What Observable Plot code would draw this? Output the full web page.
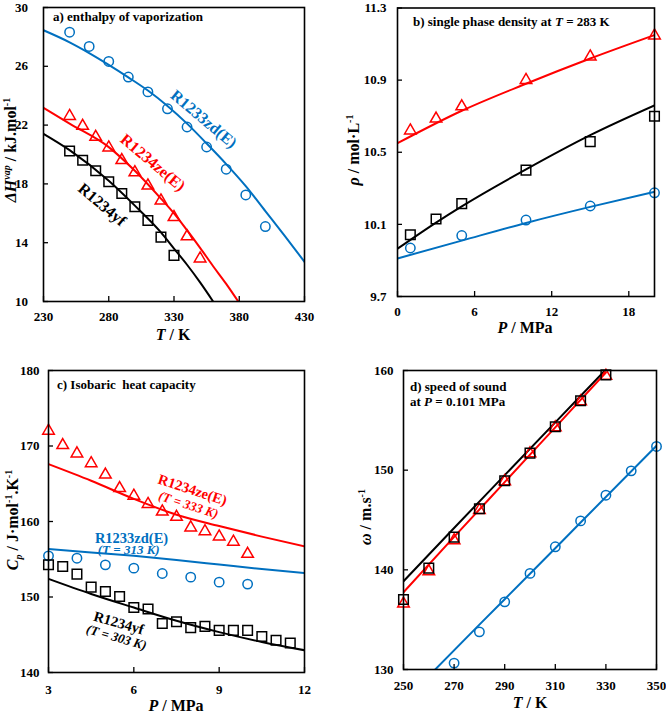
<!DOCTYPE html>
<html><head><meta charset="utf-8">
<script src="https://cdn.jsdelivr.net/npm/d3@7"></script>
<script src="https://cdn.jsdelivr.net/npm/@observablehq/plot@0.6"></script>
<style>
body{margin:0;background:#fff}
#wrap{position:relative;width:666px;height:713px;background:#fff;font-family:'Liberation Serif','Times New Roman',serif;font-weight:bold;color:#000;overflow:hidden}
.p{position:absolute}
.lab{position:absolute;white-space:nowrap;font-size:16px;line-height:16px;transform:translate(-50%,-50%)}
.rot{transform:translate(-50%,-50%) rotate(-90deg)}
.ttl{position:absolute;white-space:pre;font-size:13px;line-height:13px}
sup,sub{font-size:10px;line-height:0}
</style></head>
<body><div id="wrap"></div>
<script>
// ---------- data: a) enthalpy of vaporization ----------
const aT_zd = [250,265,280,295,310,325,340,355,370,385,400];
const aH_zd = [28.32,27.35,26.33,25.27,24.26,23.11,21.87,20.51,19.0,17.25,15.1];
const aT_ze = [250,260,270,280,290,300,310,320,330,340,350];
const aH_ze = [22.61,21.94,21.19,20.47,19.61,18.78,17.88,16.86,15.73,14.42,12.92];
const aT_yf = [250,260,270,280,290,300,310,320,330];
const aH_yf = [20.24,19.61,18.89,18.15,17.35,16.45,15.51,14.38,13.14];
const aLT_zd = [230,250,265,280,295,310,325,340,355,370,385,400,415,430];
const aLH_zd = [28.45,27.63,26.9,26.1,25.25,24.35,23.3,22.1,20.75,19.35,17.85,16.15,14.45,12.7];
const aLT_ze = [230,250,280,300,320,330,340,350,360,370,380];
const aLH_ze = [23.17,22.1,20.5,18.89,17.0,16.0,14.85,13.65,12.4,11.2,9.9];
const aLT_yf = [230,250,280,300,320,330,340,350,360];
const aLH_yf = [21.41,20.3,18.21,16.52,14.7,13.6,12.5,11.3,10.0];
const aXTicks = [230,280,330,380,430];
const aYTicks = [10,14,18,22,26,30];
const aLabelText = ["R1233zd(E)","R1234ze(E)","R1234yf"];
const aLabelT = [352.8,313.8,274.9];
const aLabelH = [22.41,19.45,16.59];

// ---------- data: b) single phase density at T = 283 K ----------
const bP_ze = [1,3,5,10,15,20];
const bR_ze = [10.62,10.686,10.754,10.9,11.03,11.147];
const bP_yf = [1,3,5,10,15,20];
const bR_yf = [10.042,10.13,10.215,10.401,10.559,10.70];
const bP_zd = [1,5,10,15,20];
const bR_zd = [9.969,10.038,10.124,10.202,10.275];
const bLP_ze = [0,5,10,15,20];
const bLR_ze = [10.55,10.73,10.88,11.02,11.15];
const bLP_yf = [0,3,5,10,15,20];
const bLR_yf = [9.965,10.11,10.2,10.405,10.595,10.76];
const bLP_zd = [0,5,10,15,20];
const bLR_zd = [9.911,10.01,10.108,10.197,10.28];
const bXTicks = [0,6,12,18];
const bYTicks = [9.7,10.1,10.5,10.9,11.3];

// ---------- data: c) isobaric heat capacity ----------
const cP_ze = [3,3.5,4,4.5,5,5.5,6,6.5,7,7.5,8,8.5,9,9.5,10];
const cC_ze = [172.0,170.1,169.0,167.7,166.2,164.4,163.4,162.3,161.3,160.6,159.2,158.7,158.0,157.3,155.7];
const cP_zd = [3,4,5,6,7,8,9,10];
const cC_zd = [155.45,155.14,154.26,153.82,153.11,152.63,151.97,151.71];
const cP_yf = [3,3.5,4,4.5,5,5.5,6,6.5,7,7.5,8,8.5,9,9.5,10,10.5,11,11.5];
const cC_yf = [154.26,154.03,153.03,151.31,150.73,150.07,148.62,148.41,146.5,146.73,145.94,146.11,145.58,145.58,145.58,144.78,144.26,143.91];
const cLP = [3,4.5,6,7.5,9,10.5,12];
const cLC_ze = [167.6,165.4,163.0,160.9,159.4,158.0,156.7];
const cLC_zd = [156.37,155.9,155.45,154.9,154.3,153.7,153.16];
const cLC_yf = [152.4,150.4,148.6,146.85,145.35,144.05,142.95];
const cXTicks = [3,6,9,12];
const cYTicks = [140,150,160,170,180];
const cNameText = ["R1234ze(E)","R1233zd(E)","R1234yf"];
const cNameP = [8.06,5.92,5.47];
const cNameC = [164.17,157.79,146.55];
const cTempText = ["(T = 333 K)","(T = 313 K)","(T = 303 K)"];
const cTempP = [7.92,5.82,5.39];
const cTempC = [162.19,156.2,144.65];

// ---------- data: d) speed of sound at P = 0.101 MPa ----------
const dT = [250,260,270,280,290,300,310,320,330];
const dW_yf = [137.03,140.17,143.28,146.12,148.93,151.71,154.35,156.96,159.56];
const dW_ze = [136.6,139.84,142.95,145.99,148.87,151.67,154.28,156.89,159.46];
const dT_zd = [270,280,290,300,310,320,330,340,350];
const dW_zd = [130.64,133.78,136.79,139.64,142.31,144.91,147.49,149.93,152.38];
const dLT = [250,270,290,310,330];
const dLW_yf = [138.85,144.2,149.5,154.8,160.1];
const dLW_ze = [137.75,143.3,148.8,154.3,159.8];
const dLT_zd = [260,280,300,320,350];
const dLW_zd = [129.35,134.5,139.6,144.75,152.45];
const dXTicks = [250,270,290,310,330,350];
const dYTicks = [130,140,150,160];

// ---------- helpers ----------
const BLUE = "#0070C0", RED = "#FF0000", BLACK = "#000000";
const FONT = "'Liberation Serif','Times New Roman',serif";
const pts = (xs, ys) => xs.map((x, i) => ({x, y: ys[i]}));
const wrap = document.getElementById("wrap");

function panel(o) {
  const svg = Plot.plot({
    width: o.width, height: o.height,
    marginLeft: o.ml, marginRight: o.mr, marginTop: o.mt, marginBottom: o.mb,
    x: {domain: o.xDomain}, y: {domain: o.yDomain},
    style: {fontFamily: FONT, fontSize: "13px", fontWeight: "bold", color: "#000", background: "transparent", overflow: "visible"},
    marks: [
      ...o.marks,
      Plot.frame({stroke: BLACK, strokeWidth: 1.6}),
      Plot.axisX({ticks: o.xTicks, tickSize: -5, tickPadding: o.xPad, label: null, tickFormat: o.xFmt || (d => String(d)), strokeWidth: 1.3}),
      Plot.axisY({ticks: o.yTicks, tickSize: -5, tickPadding: o.yPad, label: null, tickFormat: o.yFmt || (d => String(d)), strokeWidth: 1.3})
    ]
  });
  svg.classList.add("p");
  svg.style.left = o.left + "px";
  svg.style.top = o.top + "px";
  wrap.appendChild(svg);
}
const ln = (xs, ys, c) => Plot.line(pts(xs, ys), {x: "x", y: "y", stroke: c, strokeWidth: 2, curve: "monotone-x", clip: true});
const dt = (xs, ys, c, sym, r) => Plot.dot(pts(xs, ys), {x: "x", y: "y", stroke: c, fill: "none", symbol: sym, r: r, strokeWidth: 1.5});
const RC = 4.7, RT = 4.3, RS = 5.4;

// a)
panel({left: 0, top: 0, width: 333, height: 356, ml: 43, mr: 29, mt: 7, mb: 55,
  xDomain: [230, 430], yDomain: [10, 30], xTicks: aXTicks, yTicks: aYTicks, xPad: 15, yPad: 20.5,
  marks: [
    ln(aLT_zd, aLH_zd, BLUE), ln(aLT_ze, aLH_ze, RED), ln(aLT_yf, aLH_yf, BLACK),
    dt(aT_zd, aH_zd, BLUE, "circle", RC), dt(aT_ze, aH_ze, RED, "triangle", RT), dt(aT_yf, aH_yf, BLACK, "square", RS),
    Plot.text(aLabelText.map((t, i) => ({t, x: aLabelT[i], y: aLabelH[i], c: [BLUE, RED, BLACK][i]})),
      {x: "x", y: "y", text: "t", fill: "c", rotate: 40, fontSize: 16, fontWeight: "bold"})
  ]});

// b)
panel({left: 333, top: 0, width: 333, height: 356, ml: 64, mr: 12, mt: 7.5, mb: 60,
  xDomain: [0, 20], yDomain: [9.7, 11.3], xTicks: bXTicks, yTicks: bYTicks, xPad: 15, yPad: 16, yFmt: d => d.toFixed(1),
  marks: [
    ln(bLP_ze, bLR_ze, RED), ln(bLP_yf, bLR_yf, BLACK), ln(bLP_zd, bLR_zd, BLUE),
    dt(bP_ze, bR_ze, RED, "triangle", RT), dt(bP_yf, bR_yf, BLACK, "square", RS), dt(bP_zd, bR_zd, BLUE, "circle", RC)
  ]});

// c)
panel({left: 0, top: 356, width: 333, height: 357, ml: 48, mr: 29, mt: 14, mb: 41,
  xDomain: [3, 12], yDomain: [140, 180], xTicks: cXTicks, yTicks: cYTicks, xPad: 17, yPad: 14,
  marks: [
    ln(cLP, cLC_ze, RED), ln(cLP, cLC_zd, BLUE), ln(cLP, cLC_yf, BLACK),
    dt(cP_ze, cC_ze, RED, "triangle", RT), dt(cP_zd, cC_zd, BLUE, "circle", RC), dt(cP_yf, cC_yf, BLACK, "square", RS),
    Plot.text(cNameText.map((t, i) => ({t, x: cNameP[i], y: cNameC[i], c: [RED, BLUE, BLACK][i], r: [18, 0, 16][i]})),
      {x: "x", y: "y", text: "t", fill: "c", rotate: "r", fontSize: 14.5, fontWeight: "bold"}),
    Plot.text(cTempText.map((t, i) => ({t, x: cTempP[i], y: cTempC[i], c: [RED, BLUE, BLACK][i], r: [18, 0, 16][i]})),
      {x: "x", y: "y", text: "t", fill: "c", rotate: "r", fontSize: 13, fontWeight: "bold", fontStyle: "italic"})
  ]});

// d)
panel({left: 333, top: 356, width: 333, height: 357, ml: 70, mr: 10, mt: 14, mb: 44,
  xDomain: [250, 350], yDomain: [130, 160], xTicks: dXTicks, yTicks: dYTicks, xPad: 16, yPad: 15,
  marks: [
    ln(dLT, dLW_yf, BLACK), ln(dLT, dLW_ze, RED), ln(dLT_zd, dLW_zd, BLUE),
    dt(dT, dW_ze, RED, "triangle", RT), dt(dT, dW_yf, BLACK, "square", RS), dt(dT_zd, dW_zd, BLUE, "circle", RC)
  ]});

// ---------- titles and axis labels (HTML text) ----------
const html = [
  [53, 10, 'a) enthalpy of vaporization'],
  [413, 15, 'b) single phase density at <i>T</i> = 283 K'],
  [57, 378, 'c) Isobaric  heat capacity'],
  [410, 380, 'd) speed of sound'],
  [410, 395, 'at <i>P</i> = 0.101 MPa'],
];
for (const [x, y, h] of html) {
  const d = document.createElement("div");
  d.className = "ttl"; d.style.left = x + "px"; d.style.top = y + "px"; d.innerHTML = h;
  wrap.appendChild(d);
}
const labs = [
  [173, 335, false, '<i>T</i> / K'],
  [11, 150, true, '<i>ΔH</i><sup><i>vap</i></sup> / kJ.mol<sup>-1</sup>'],
  [525, 328, false, '<i>P</i> / MPa'],
  [354, 150, true, '<i>ρ</i> / mol·L<sup>-1</sup>'],
  [176, 706, false, '<i>P</i> / MPa'],
  [13, 520, true, '<i>C<sub>p</sub></i> / J·mol<sup>-1</sup>.K<sup>-1</sup>'],
  [530, 703, false, '<i>T</i> / K'],
  [366, 517, true, '<i>ω</i> / m.s<sup>-1</sup>'],
];
for (const [x, y, r, h] of labs) {
  const d = document.createElement("div");
  d.className = "lab" + (r ? " rot" : ""); d.style.left = x + "px"; d.style.top = y + "px"; d.innerHTML = h;
  wrap.appendChild(d);
}
</script></body></html>
